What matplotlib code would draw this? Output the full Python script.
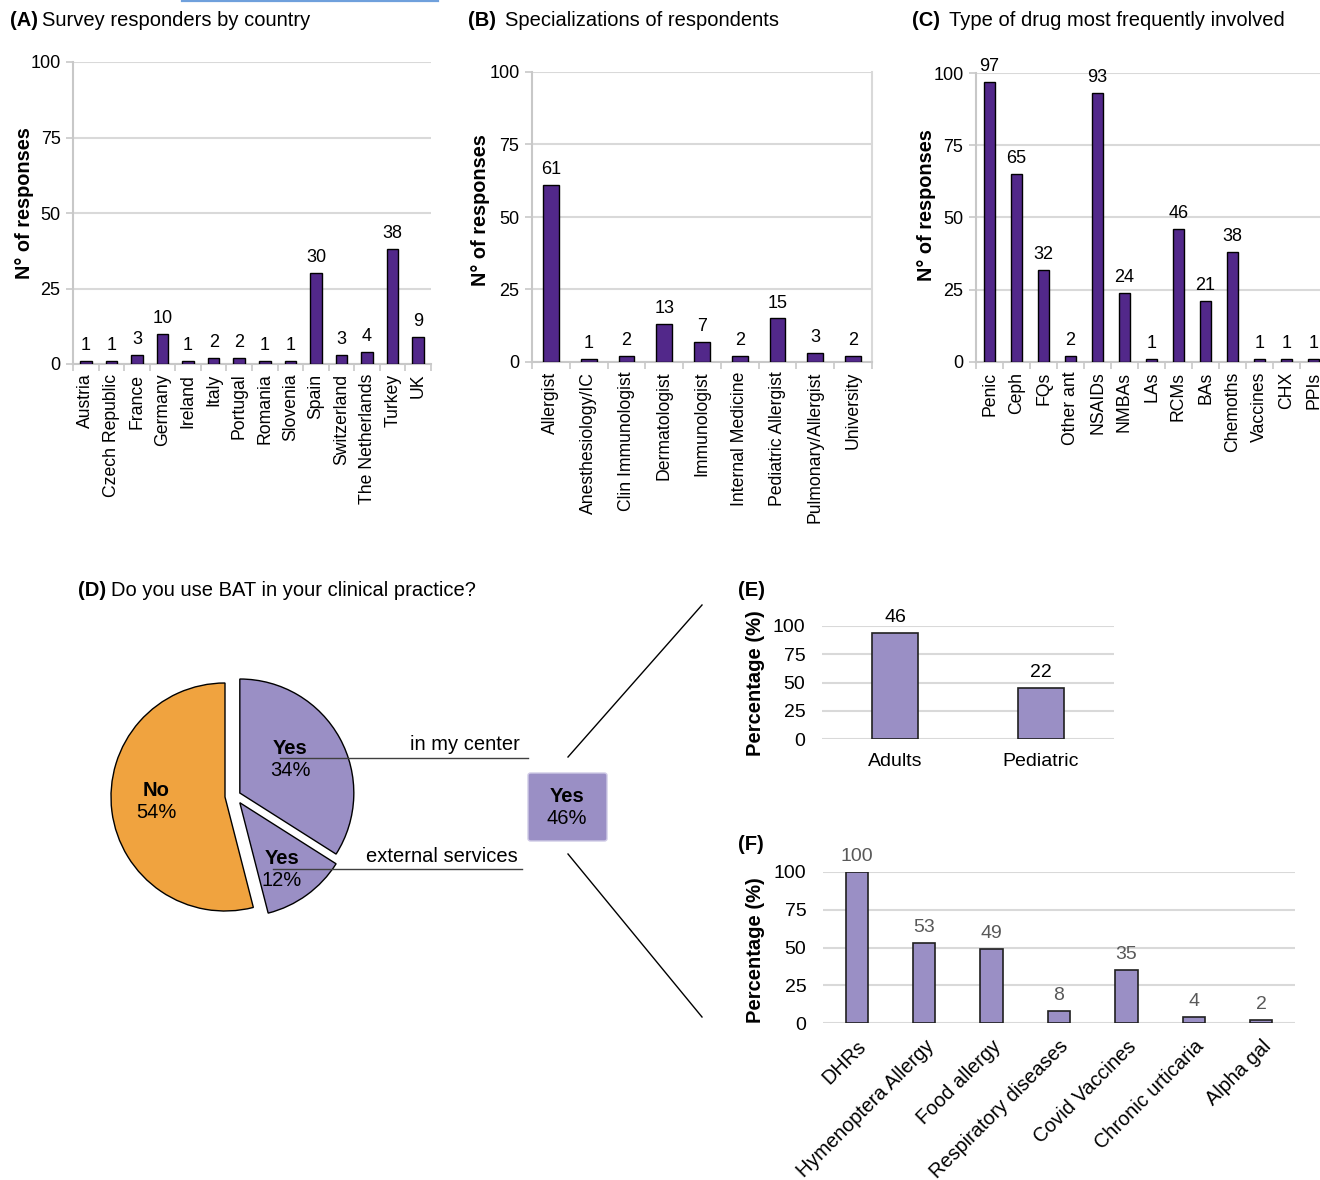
import matplotlib
matplotlib.use("Agg")
import matplotlib.pyplot as plt
import numpy as np
from matplotlib.lines import Line2D
from matplotlib.patches import FancyBboxPatch

plt.rcParams['font.family'] = ['Liberation Sans', 'DejaVu Sans']

# (A) responders by country
countries = ["Austria", "Czech Republic", "France", "Germany", "Ireland", "Italy", "Portugal",
             "Romania", "Slovenia", "Spain", "Switzerland", "The Netherlands", "Turkey", "UK"]
country_n = [1, 1, 3, 10, 1, 2, 2, 1, 1, 30, 3, 4, 38, 9]

# (B) specializations
specs = ["Allergist", "Anesthesiology/IC", "Clin Immunologist", "Dermatologist", "Immunologist",
         "Internal Medicine", "Pediatric Allergist", "Pulmonary/Allergist", "University"]
spec_n = [61, 1, 2, 13, 7, 2, 15, 3, 2]

# (C) drugs
drugs = ["Penic", "Ceph", "FQs", "Other ant", "NSAIDs", "NMBAs", "LAs", "RCMs", "BAs",
         "Chemoths", "Vaccines", "CHX", "PPIs"]
drug_n = [97, 65, 32, 2, 93, 24, 1, 46, 21, 38, 1, 1, 1]

# (D) BAT use
pie_labels = ["No", "Yes", "Yes"]
pie_pct = [54, 12, 34]

# (E) population
pop = ["Adults", "Pediatric"]
pop_pct = [94, 45]
pop_n = [46, 22]

# (F) indications
uses = ["DHRs", "Hymenoptera Allergy", "Food allergy", "Respiratory diseases", "Covid Vaccines",
        "Chronic urticaria", "Alpha gal"]
uses_pct = [100, 53, 49, 8, 35, 4, 2]

W, H = 1320, 1180
DARK = '#52288A'
LAV = '#9A8FC5'
ORANGE = '#F0A33F'
GRID = '#D9D9D9'
TITLE_FS = 14.5

fig = plt.figure(figsize=(W / 100, H / 100), dpi=100)


def ax_px(l, t, r, b):
    return fig.add_axes([l / W, 1 - b / H, (r - l) / W, (b - t) / H])


def ftext(x, y, s, **kw):
    kw.setdefault('ha', 'left')
    kw.setdefault('va', 'center')
    fig.text(x / W, 1 - y / H, s, **kw)


def fline(x1, y1, x2, y2, **kw):
    fig.add_artist(Line2D([x1 / W, x2 / W], [1 - y1 / H, 1 - y2 / H],
                          transform=fig.transFigure, **kw))


def count_panel(ax, cats, vals, width, right_border=False):
    x = np.arange(len(cats))
    ax.bar(x, vals, width, color=DARK, edgecolor='black', linewidth=1, zorder=3)
    for xi, v in zip(x, vals):
        ax.annotate(str(v), (xi, v), xytext=(0, 5), textcoords='offset points',
                    ha='center', va='bottom', fontsize=13)
    ax.set_xlim(-0.5, len(cats) - 0.5)
    ax.set_ylim(0, 100)
    ax.set_yticks([0, 25, 50, 75, 100])
    ax.grid(axis='y', color=GRID, lw=1.5, zorder=0)
    ax.set_xticks(x)
    ax.set_xticklabels(cats, rotation=90, fontsize=12.7)
    ax.set_xticks(np.arange(-0.5, len(cats)), minor=True)
    ax.tick_params(axis='x', which='major', length=0, pad=7)
    ax.tick_params(axis='x', which='minor', length=5, color='#C8C8C8', width=1.2)
    ax.tick_params(axis='y', length=5, color='#C8C8C8', width=1.2, labelsize=13, pad=4)
    for s in ['top', 'right']:
        ax.spines[s].set_visible(False)
    for s in ['left', 'bottom']:
        ax.spines[s].set_color('#C8C8C8')
        ax.spines[s].set_linewidth(1.5)
    if right_border:
        ax.spines['right'].set_visible(True)
        ax.spines['right'].set_color(GRID)
        ax.spines['right'].set_linewidth(1.5)


# top row
axA = ax_px(73, 62, 431, 364)
count_panel(axA, countries, country_n, 0.45)
axB = ax_px(532, 72, 872, 362)
count_panel(axB, specs, spec_n, 0.42, right_border=True)
axC = ax_px(976, 73, 1327, 362)
count_panel(axC, drugs, drug_n, 0.42)

ftext(10, 20, "(A)", fontsize=TITLE_FS, weight='bold')
ftext(42, 20, "Survey responders by country", fontsize=TITLE_FS)
ftext(468, 20, "(B)", fontsize=TITLE_FS, weight='bold')
ftext(505, 20, "Specializations of respondents", fontsize=TITLE_FS)
ftext(912, 20, "(C)", fontsize=TITLE_FS, weight='bold')
ftext(949, 20, "Type of drug most frequently involved", fontsize=TITLE_FS)
for xl, yl in [(25, 203), (481, 210), (927, 205)]:
    ftext(xl, yl, "N° of responses", rotation=90, ha='center', fontsize=14.3, weight='bold')

# (D) pie
R = 114
axD = ax_px(225 - 150, 797 - 150, 225 + 150, 797 + 150)
wedges, _ = axD.pie(pie_pct, colors=[ORANGE, LAV, LAV], startangle=90, counterclock=True,
                    radius=1, wedgeprops=dict(edgecolor='black', linewidth=1))
# pulled-out "Yes" slices, shifted mostly to the right as in the source
wedges[1].set_center((0.13, -0.05))
wedges[2].set_center((0.13, 0.035))
axD.set_xlim(-150 / R, 150 / R)
axD.set_ylim(-150 / R, 150 / R)
axD.axis('off')

ftext(78, 590, "(D)", fontsize=TITLE_FS, weight='bold')
ftext(111, 590, "Do you use BAT in your clinical practice?", fontsize=TITLE_FS)

ftext(156, 790, pie_labels[0], ha='center', fontsize=14.5, weight='bold')
ftext(156, 812, f"{pie_pct[0]}%", ha='center', fontsize=14.5)
ftext(290, 748, pie_labels[2], ha='center', fontsize=14.5, weight='bold')
ftext(290, 770, f"{pie_pct[2]}%", ha='center', fontsize=14.5)
ftext(282, 858, pie_labels[1], ha='center', fontsize=14.5, weight='bold')
ftext(282, 880, f"{pie_pct[1]}%", ha='center', fontsize=14.5)

fline(280, 758, 528, 758, color='#404040', lw=1)
fline(273, 869, 522, 869, color='#404040', lw=1)
ftext(520, 745, "in my center", ha='right', fontsize=14.5)
ftext(518, 856, "external services", ha='right', fontsize=14.5)

box = FancyBboxPatch((528 / W, 1 - 841 / H), 79 / W, 68 / H,
                     boxstyle='round,pad=0,rounding_size=0.002',
                     transform=fig.transFigure, fc=LAV, ec='#CFCAE6', lw=1)
fig.add_artist(box)
ftext(567, 796, "Yes", ha='center', fontsize=14.5, weight='bold')
ftext(567, 818, f"{pie_pct[1] + pie_pct[2]}%", ha='center', fontsize=14.5)

fline(568, 757, 702, 605, color='black', lw=1)
fline(568, 854, 702, 1017, color='black', lw=1)

# stray line at top of the source image
fline(182, 0.8, 438, 0.8, color='#6FA0DC', lw=1.6)


def pct_panel(ax, cats, vals, labels, width, label_color, rot):
    x = np.arange(len(cats))
    ax.bar(x, vals, width, color=LAV, edgecolor='#202020', linewidth=1.2, zorder=3)
    for xi, v, lab in zip(x, vals, labels):
        ax.annotate(str(lab), (xi, v), xytext=(0, 5), textcoords='offset points',
                    ha='center', va='bottom', fontsize=14, color=label_color)
    ax.set_xlim(-0.5, len(cats) - 0.5)
    ax.set_ylim(0, 100)
    ax.set_yticks([0, 25, 50, 75, 100])
    ax.grid(axis='y', color=GRID, lw=1.5, zorder=0)
    ax.set_xticks(x)
    if rot:
        ax.set_xticklabels(cats, rotation=45, ha='right', rotation_mode='anchor', fontsize=14.3)
    else:
        ax.set_xticklabels(cats, fontsize=14)
    ax.tick_params(axis='both', length=0)
    ax.tick_params(axis='y', pad=12, labelsize=14)
    ax.tick_params(axis='x', pad=10)
    for s in ax.spines.values():
        s.set_visible(False)


axE = ax_px(822, 626, 1114, 739)
pct_panel(axE, pop, pop_pct, pop_n, 0.31, 'black', False)
axF = ax_px(823, 872, 1295, 1023)
pct_panel(axF, uses, uses_pct, uses_pct, 0.33, '#595959', True)

ftext(738, 591, "(E)", fontsize=TITLE_FS, weight='bold')
ftext(738, 845, "(F)", fontsize=TITLE_FS, weight='bold')
ftext(755, 683, "Percentage (%)", rotation=90, ha='center', fontsize=14.5, weight='bold')
ftext(755, 950, "Percentage (%)", rotation=90, ha='center', fontsize=14.5, weight='bold')

fig.savefig("out.png", dpi=100, facecolor='white')
